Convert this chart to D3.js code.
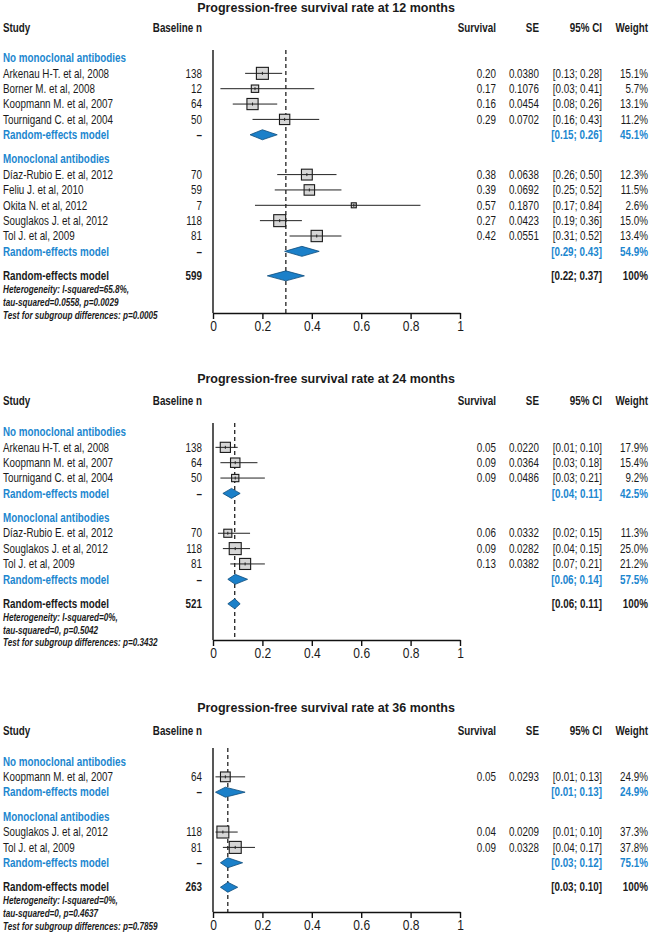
<!DOCTYPE html>
<html>
<head>
<meta charset="utf-8">
<script src="https://cdn.jsdelivr.net/npm/d3@7"></script>
<style>
body { margin: 0; background: #fff; }
svg { display: block; }
text { font-family: "Liberation Sans", Arial, sans-serif; fill: #1a1a1a; }
</style>
</head>
<body>
<script>
"use strict";
const groupNames = ["No monoclonal antibodies", "Monoclonal antibodies"];
const xTicks = [0, 0.2, 0.4, 0.6, 0.8, 1];
const xTickLabels = ["0", "0.2", "0.4", "0.6", "0.8", "1"];

// 12 months
const study12 = ["Arkenau H-T. et al, 2008", "Borner M. et al, 2008", "Koopmann M. et al, 2007", "Tournigand C. et al, 2004",
	"Díaz-Rubio E. et al, 2012", "Feliu J. et al, 2010", "Okita N. et al, 2012", "Souglakos J. et al, 2012", "Tol J. et al, 2009"];
const grp12 = [0, 0, 0, 0, 1, 1, 1, 1, 1];
const n12 = [138, 12, 64, 50, 70, 59, 7, 118, 81];
const surv12 = [0.20, 0.17, 0.16, 0.29, 0.38, 0.39, 0.57, 0.27, 0.42];
const se12 = [0.0380, 0.1076, 0.0454, 0.0702, 0.0638, 0.0692, 0.1870, 0.0423, 0.0551];
const lo12 = [0.13, 0.03, 0.08, 0.16, 0.26, 0.25, 0.17, 0.19, 0.31];
const hi12 = [0.28, 0.41, 0.26, 0.43, 0.50, 0.52, 0.84, 0.36, 0.52];
const wt12 = [15.1, 5.7, 13.1, 11.2, 12.3, 11.5, 2.6, 15.0, 13.4];
const subEst12 = [0.20, 0.36];
const subLo12 = [0.15, 0.29];
const subHi12 = [0.26, 0.43];
const subWt12 = [45.1, 54.9];
const all12 = [0.295, 0.22, 0.37];
const total12 = 599;
const het12 = ["Heterogeneity: I-squared=65.8%,", "tau-squared=0.0558, p=0.0029", "Test for subgroup differences: p=0.0005"];

// 24 months
const study24 = ["Arkenau H-T. et al, 2008", "Koopmann M. et al, 2007", "Tournigand C. et al, 2004",
	"Díaz-Rubio E. et al, 2012", "Souglakos J. et al, 2012", "Tol J. et al, 2009"];
const grp24 = [0, 0, 0, 1, 1, 1];
const n24 = [138, 64, 50, 70, 118, 81];
const surv24 = [0.05, 0.09, 0.09, 0.06, 0.09, 0.13];
const se24 = [0.0220, 0.0364, 0.0486, 0.0332, 0.0282, 0.0382];
const lo24 = [0.01, 0.03, 0.03, 0.02, 0.04, 0.07];
const hi24 = [0.10, 0.18, 0.21, 0.15, 0.15, 0.21];
const wt24 = [17.9, 15.4, 9.2, 11.3, 25.0, 21.2];
const subEst24 = [0.075, 0.09];
const subLo24 = [0.04, 0.06];
const subHi24 = [0.11, 0.14];
const subWt24 = [42.5, 57.5];
const all24 = [0.088, 0.06, 0.11];
const total24 = 521;
const het24 = ["Heterogeneity: I-squared=0%,", "tau-squared=0, p=0.5042", "Test for subgroup differences: p=0.3432"];

// 36 months
const study36 = ["Koopmann M. et al, 2007", "Souglakos J. et al, 2012", "Tol J. et al, 2009"];
const grp36 = [0, 1, 1];
const n36 = [64, 118, 81];
const surv36 = [0.05, 0.04, 0.09];
const se36 = [0.0293, 0.0209, 0.0328];
const lo36 = [0.01, 0.01, 0.04];
const hi36 = [0.13, 0.10, 0.17];
const wt36 = [24.9, 37.3, 37.8];
const subEst36 = [0.05, 0.06];
const subLo36 = [0.01, 0.03];
const subHi36 = [0.13, 0.12];
const subWt36 = [24.9, 75.1];
const all36 = [0.06, 0.03, 0.10];
const total36 = 263;
const het36 = ["Heterogeneity: I-squared=0%,", "tau-squared=0, p=0.4637", "Test for subgroup differences: p=0.7859"];

const blue = "#1c87cf";
const W = 650, H = 934;
const narrow = 0.82; // condensed look of the original face
const svg = d3.select("body").append("svg").attr("width", W).attr("height", H);
const x = d3.scaleLinear().domain([0, 1]).range([213, 460]);
const col = {study: 3, n: 202, surv: 496, se: 539, ci: 602, wt: 648};
const ci = (a, b) => "[" + a.toFixed(2) + "; " + b.toFixed(2) + "]";

function txt(g, xx, yy, s, o) {
	o = o || {};
	return g.append("text").attr("transform", "translate(" + xx + "," + yy + ") scale(" + (o.sx || narrow) + ",1)")
		.attr("dy", "0.35em")
		.attr("text-anchor", o.anchor || "start")
		.style("font-size", (o.size || 12) + "px")
		.style("font-weight", o.bold ? "bold" : "normal")
		.style("font-style", o.italic ? "italic" : "normal")
		.style("fill", o.color || "#1a1a1a")
		.text(s);
}

function diamond(g, est, lo, hi, yy) {
	const h = 5;
	g.append("path")
		.attr("d", "M" + x(lo) + "," + yy + "L" + x(est) + "," + (yy - h) + "L" + x(hi) + "," + yy + "L" + x(est) + "," + (yy + h) + "Z")
		.attr("fill", "#1b80c9").attr("stroke", "#0e4c7c").attr("stroke-width", 0.8);
}

function panel(d, lay) {
	const g = svg.append("g");
	txt(g, 326, lay.titleY, d.title, {anchor: "middle", size: 12.5, bold: true, sx: 1});
	txt(g, col.study, lay.headY, "Study", {bold: true});
	txt(g, col.n, lay.headY, "Baseline n", {bold: true, anchor: "end"});
	txt(g, col.surv, lay.headY, "Survival", {bold: true, anchor: "end"});
	txt(g, col.se, lay.headY, "SE", {bold: true, anchor: "end"});
	txt(g, col.ci, lay.headY, "95% CI", {bold: true, anchor: "end"});
	txt(g, col.wt, lay.headY, "Weight", {bold: true, anchor: "end"});

	const y = d3.scaleLinear().domain([0, 1]).range([lay.y0, lay.y0 + 15.35]);
	const gap = 24.5 / 15.35 - 1;
	const size = d3.scaleSqrt().domain([0, d3.max(d.wt)]).range([0, 12]);
	let pos = 0;
	const marks = g.append("g");

	groupNames.forEach((name, k) => {
		if (k > 0) pos += gap;
		txt(g, col.study, y(pos), name, {bold: true, color: blue});
		pos += 1;
		d.study.forEach((s, i) => {
			if (d.grp[i] !== k) return;
			const yy = y(pos);
			txt(g, col.study, yy, s);
			txt(g, col.n, yy, d.n[i], {anchor: "end"});
			txt(g, col.surv, yy, d.surv[i].toFixed(2), {anchor: "end"});
			txt(g, col.se, yy, d.se[i].toFixed(4), {anchor: "end"});
			txt(g, col.ci, yy, ci(d.lo[i], d.hi[i]), {anchor: "end"});
			txt(g, col.wt, yy, d.wt[i].toFixed(1) + "%", {anchor: "end"});
			const b = Math.max(5, size(d.wt[i]));
			marks.append("rect").attr("x", x(d.surv[i]) - b / 2).attr("y", yy - b / 2)
				.attr("width", b).attr("height", b)
				.attr("fill", "#d6d6d6").attr("stroke", "#1a1a1a").attr("stroke-width", 1.1);
			marks.append("line").attr("x1", x(d.lo[i])).attr("x2", x(d.hi[i])).attr("y1", yy).attr("y2", yy)
				.attr("stroke", "#222").attr("stroke-width", 1);
			marks.append("line").attr("x1", x(d.surv[i])).attr("x2", x(d.surv[i])).attr("y1", yy - 1.5).attr("y2", yy + 1.5)
				.attr("stroke", "#222").attr("stroke-width", 1);
			pos += 1;
		});
		const yy = y(pos);
		txt(g, col.study, yy, "Random-effects model", {bold: true, color: blue});
		txt(g, col.n, yy, "–", {anchor: "end", bold: true});
		txt(g, col.ci, yy, ci(d.subLo[k], d.subHi[k]), {anchor: "end", bold: true, color: blue});
		txt(g, col.wt, yy, d.subWt[k].toFixed(1) + "%", {anchor: "end", bold: true, color: blue});
		diamond(marks, d.subEst[k], d.subLo[k], d.subHi[k], yy);
		pos += 1;
	});
	pos += gap;
	const yo = y(pos);
	txt(g, col.study, yo, "Random-effects model", {bold: true});
	txt(g, col.n, yo, d.total, {anchor: "end", bold: true});
	txt(g, col.ci, yo, ci(d.all[1], d.all[2]), {anchor: "end", bold: true});
	txt(g, col.wt, yo, "100%", {anchor: "end", bold: true});
	diamond(marks, d.all[0], d.all[1], d.all[2], yo);
	d.het.forEach((s, i) => txt(g, col.study, yo + 13.5 + i * 12.8, s, {size: 10.2, bold: true, italic: true, sx: 0.8}));

	// reference lines
	g.insert("line", ":first-child").attr("x1", x(0)).attr("x2", x(0)).attr("y1", lay.lineTop).attr("y2", lay.axisY)
		.attr("stroke", "#111").attr("stroke-width", 1.4);
	g.insert("line", ":first-child").attr("x1", x(d.all[0])).attr("x2", x(d.all[0])).attr("y1", lay.lineTop).attr("y2", lay.axisY)
		.attr("stroke", "#111").attr("stroke-width", 1.2).attr("stroke-dasharray", "4,3");

	const ax = g.append("g").attr("transform", "translate(0," + lay.axisY + ")")
		.call(d3.axisBottom(x).tickValues(xTicks).tickFormat((t, i) => xTickLabels[i]).tickSize(6).tickSizeOuter(0).tickPadding(2));
	ax.select(".domain").attr("stroke", "#111").attr("stroke-width", 1.4);
	ax.selectAll(".tick line").attr("stroke", "#111").attr("stroke-width", 1.4);
	ax.selectAll(".tick text").style("font-size", "14px").style("fill", "#1a1a1a")
		.style("font-family", "'Liberation Sans', Arial, sans-serif")
		.attr("transform", "scale(0.86,1)");
}

panel({title: "Progression-free survival rate at 12 months", study: study12, grp: grp12, n: n12, surv: surv12, se: se12, lo: lo12, hi: hi12, wt: wt12,
	subEst: subEst12, subLo: subLo12, subHi: subHi12, subWt: subWt12, all: all12, total: total12, het: het12},
	{titleY: 8, headY: 28, y0: 58, lineTop: 50, axisY: 313});
panel({title: "Progression-free survival rate at 24 months", study: study24, grp: grp24, n: n24, surv: surv24, se: se24, lo: lo24, hi: hi24, wt: wt24,
	subEst: subEst24, subLo: subLo24, subHi: subHi24, subWt: subWt24, all: all24, total: total24, het: het24},
	{titleY: 379, headY: 401, y0: 432, lineTop: 423, axisY: 640});
panel({title: "Progression-free survival rate at 36 months", study: study36, grp: grp36, n: n36, surv: surv36, se: se36, lo: lo36, hi: hi36, wt: wt36,
	subEst: subEst36, subLo: subLo36, subHi: subHi36, subWt: subWt36, all: all36, total: total36, het: het36},
	{titleY: 708, headY: 731, y0: 761.5, lineTop: 748, axisY: 912});
</script>
</body>
</html>
